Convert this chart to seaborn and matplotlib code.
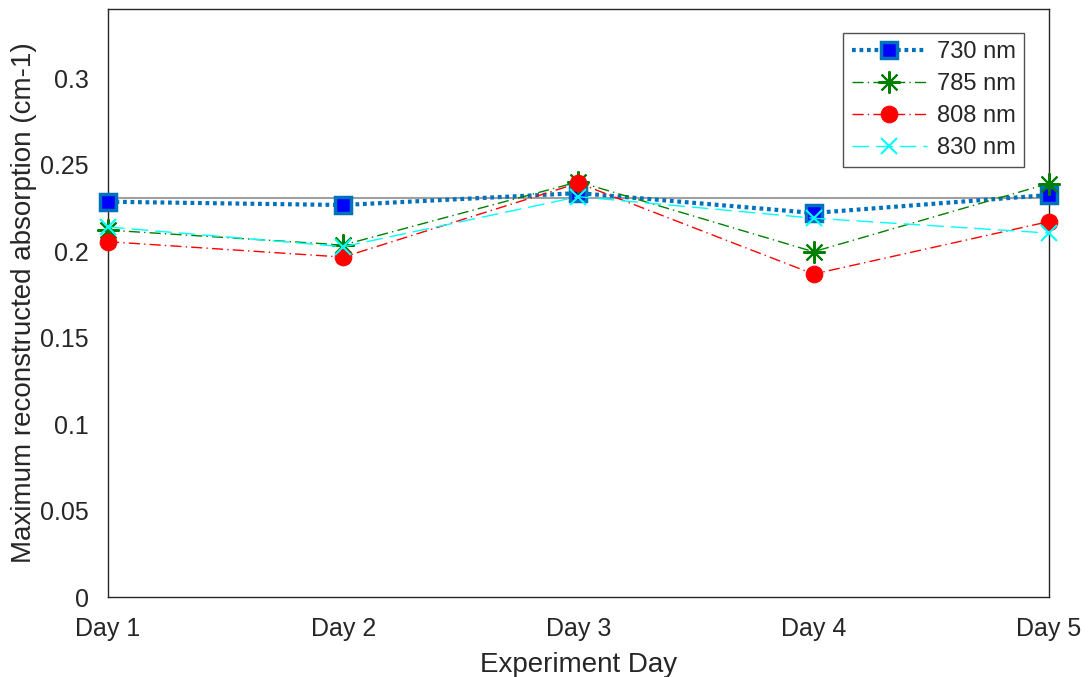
import pandas as pd
import matplotlib
matplotlib.use("Agg")
import matplotlib.pyplot as plt
import seaborn as sns

days = ["Day 1", "Day 2", "Day 3", "Day 4", "Day 5"]
abs_730 = [0.2285, 0.2266, 0.2335, 0.2220, 0.2324]
abs_785 = [0.2121, 0.2035, 0.2400, 0.1996, 0.2390]
abs_808 = [0.2054, 0.1965, 0.2393, 0.1867, 0.2170]
abs_830 = [0.2139, 0.2025, 0.2314, 0.2190, 0.2104]
ref_level = 0.2306

sns.set_style("white")
plt.rcParams["font.family"] = ["Liberation Sans", "DejaVu Sans"]

fig, ax = plt.subplots(figsize=(10.89, 6.77), dpi=100)
fig.subplots_adjust(left=0.0992, right=0.963, top=0.987, bottom=0.118)

x = list(range(len(days)))

ax.axhline(ref_level, color="#a0a0a0", lw=1.5, zorder=1)

sns.lineplot(x=x, y=abs_730, ax=ax, color="#0072BD", lw=3, linestyle=(0, (0.9, 0.9)),
             marker="s", markersize=12, markerfacecolor="#0000FF",
             markeredgecolor="#0072BD", markeredgewidth=2.5, label="730 nm",
             zorder=3, clip_on=False)
sns.lineplot(x=x, y=abs_785, ax=ax, color="#008000", lw=1, linestyle=(0, (8, 3, 1, 3)),
             marker=(8, 2, 0), markersize=16, markeredgewidth=1.5,
             markeredgecolor="#008000", label="785 nm", zorder=4, clip_on=False)
sns.lineplot(x=x, y=abs_808, ax=ax, color="#FF0000", lw=1, linestyle=(0, (8, 3, 1, 3)),
             marker="o", markersize=12, markerfacecolor="#FF0000",
             markeredgecolor="#FF0000", label="808 nm", zorder=5, clip_on=False)
sns.lineplot(x=x, y=abs_830, ax=ax, color="#00FFFF", lw=1, linestyle=(0, (12, 5)),
             marker="x", markersize=11, markeredgewidth=1.5,
             markeredgecolor="#00FFFF", label="830 nm", zorder=6, clip_on=False)

ax.set_xlim(0, 4)
ax.set_ylim(0, 0.34)
ax.set_xticks(x)
ax.set_xticklabels(days)
ax.set_yticks([0, 0.05, 0.1, 0.15, 0.2, 0.25, 0.3])
ax.set_yticklabels(["0", "0.05", "0.1", "0.15", "0.2", "0.25", "0.3"])
ax.tick_params(direction="in", length=7, labelsize=18, color="#262626", labelcolor="#262626")
ax.tick_params(axis="x", pad=14)
ax.tick_params(axis="y", pad=14)
for s in ax.spines.values():
    s.set_color("#262626")
    s.set_linewidth(1)
ax.set_xlabel("Experiment Day", fontsize=20, color="#262626", labelpad=8)
ax.set_ylabel("Maximum reconstructed absorption (cm-1)", fontsize=20, color="#262626",
              labelpad=2)

leg = ax.legend(loc="upper right", fontsize=17, frameon=True, fancybox=False,
                edgecolor="#262626", handlelength=3.2, borderpad=0.35,
                labelspacing=0.42, handletextpad=0.4, borderaxespad=0,
                bbox_to_anchor=(0.9734, 0.959))
leg.get_frame().set_linewidth(1)

fig.savefig("out.png", dpi=100)
